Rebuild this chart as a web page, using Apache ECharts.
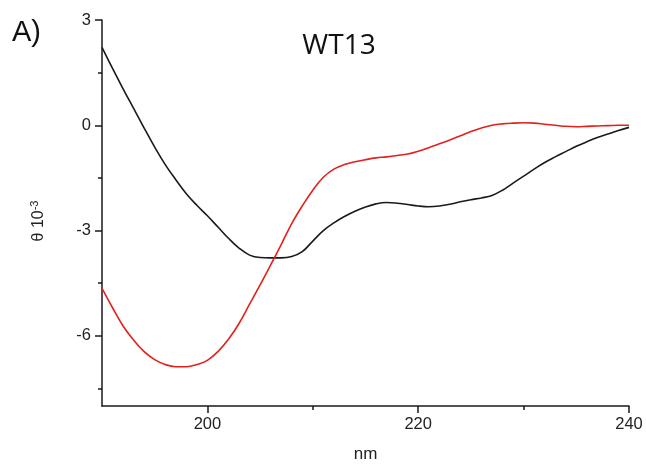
<!DOCTYPE html>
<html>
<head>
<meta charset="utf-8">
<script src="https://cdn.jsdelivr.net/npm/echarts@6/dist/echarts.min.js"></script>
<style>html,body{margin:0;padding:0;background:#fff;}#c{width:646px;height:468px;}</style>
</head>
<body>
<div id="c"></div>
<script>
const wavelengths = [190,191,192,193,194,195,196,197,198,199,200,201,202,203,204,205,206,207,208,209,210,211,212,213,214,215,216,217,218,219,220,221,222,223,224,225,226,227,228,229,230,231,232,233,234,235,236,237,238,239,240];
const blackSeries = [2.22,1.62,1.04,0.48,-0.08,-0.62,-1.12,-1.55,-1.95,-2.28,-2.58,-2.9,-3.22,-3.5,-3.7,-3.77,-3.78,-3.78,-3.74,-3.6,-3.3,-3.0,-2.78,-2.6,-2.45,-2.33,-2.24,-2.2,-2.22,-2.26,-2.3,-2.32,-2.3,-2.25,-2.18,-2.12,-2.07,-2.0,-1.85,-1.65,-1.45,-1.25,-1.06,-0.9,-0.75,-0.6,-0.47,-0.35,-0.25,-0.15,-0.06];
const redSeries = [-4.65,-5.2,-5.72,-6.12,-6.45,-6.68,-6.82,-6.88,-6.88,-6.82,-6.7,-6.45,-6.1,-5.65,-5.1,-4.55,-3.98,-3.4,-2.8,-2.3,-1.85,-1.48,-1.25,-1.12,-1.04,-0.98,-0.93,-0.9,-0.86,-0.82,-0.74,-0.64,-0.53,-0.42,-0.3,-0.18,-0.08,0.0,0.04,0.06,0.07,0.06,0.03,0.0,-0.03,-0.04,-0.03,-0.02,-0.01,0.0,0.0];
const xMajorTicks = [200,220,240];
const xMinorTicks = [210,230];
const yMajorTicks = [-6,-3,0,3];
const yMinorTicks = [-7.5,-4.5,-1.5,1.5];

const chart = echarts.init(document.getElementById('c'));
const axisColor = '#1a1a1a';
const labelStyle = {color:'#222', fontSize:16.5, fontFamily:'Liberation Sans, Arial, sans-serif'};
chart.setOption({
  animation:false,
  backgroundColor:'#fff',
  grid:{left:102, right:17, top:20, bottom:61},
  graphic:[
    {type:'text', left:12, top:18, style:{text:'A)', fontSize:29, fontFamily:'Liberation Sans, Arial, sans-serif', fill:'#111'}},
    {type:'text', x:339, y:46, style:{text:'WT13', fontSize:28, fontFamily:'Open Sans, sans-serif', fill:'#111', align:'center', verticalAlign:'middle'}},
    {type:'text', x:39, y:221, rotation:Math.PI/2, style:{text:'θ 10{sup|-3}', fontSize:16, fontFamily:'Liberation Sans, Arial, sans-serif', fill:'#222', align:'center', verticalAlign:'middle', rich:{sup:{fontSize:11, verticalAlign:'top', padding:[0,0,9,0], fill:'#222'}}}}
  ],
  xAxis:[
    {type:'value', min:190, max:240, name:'nm', nameLocation:'middle', nameGap:40,
     nameTextStyle:{color:'#222', fontSize:17, fontFamily:'Liberation Sans, Arial, sans-serif'},
     axisLine:{show:true, onZero:false, lineStyle:{color:axisColor, width:1.5}},
     axisTick:{show:true, length:7, customValues:xMajorTicks, lineStyle:{color:axisColor, width:1.5}},
     axisLabel:Object.assign({customValues:xMajorTicks, margin:10}, labelStyle),
     splitLine:{show:false}},
    {type:'value', min:190, max:240, position:'bottom',
     axisLine:{show:false, onZero:false},
     axisTick:{show:true, length:4, customValues:xMinorTicks, lineStyle:{color:axisColor, width:1.5}},
     axisLabel:{show:false}, splitLine:{show:false}}
  ],
  yAxis:[
    {type:'value', min:-8, max:3,
     axisLine:{show:true, onZero:false, lineStyle:{color:axisColor, width:1.5}},
     axisTick:{show:true, length:7, customValues:yMajorTicks, lineStyle:{color:axisColor, width:1.5}},
     axisLabel:Object.assign({customValues:yMajorTicks, margin:11}, labelStyle),
     splitLine:{show:false}},
    {type:'value', min:-8, max:3, position:'left',
     axisLine:{show:false, onZero:false},
     axisTick:{show:true, length:4, customValues:yMinorTicks, lineStyle:{color:axisColor, width:1.5}},
     axisLabel:{show:false}, splitLine:{show:false}}
  ],
  series:[
    {type:'line', name:'black', xAxisIndex:0, yAxisIndex:0, data:wavelengths.map((w,i)=>[w,blackSeries[i]]), smooth:0.4, showSymbol:false, lineStyle:{color:'#1a1a1a', width:1.6}},
    {type:'line', name:'red', xAxisIndex:0, yAxisIndex:0, data:wavelengths.map((w,i)=>[w,redSeries[i]]), smooth:0.4, showSymbol:false, lineStyle:{color:'#e3201c', width:1.6}}
  ]
});
</script>
</body>
</html>
